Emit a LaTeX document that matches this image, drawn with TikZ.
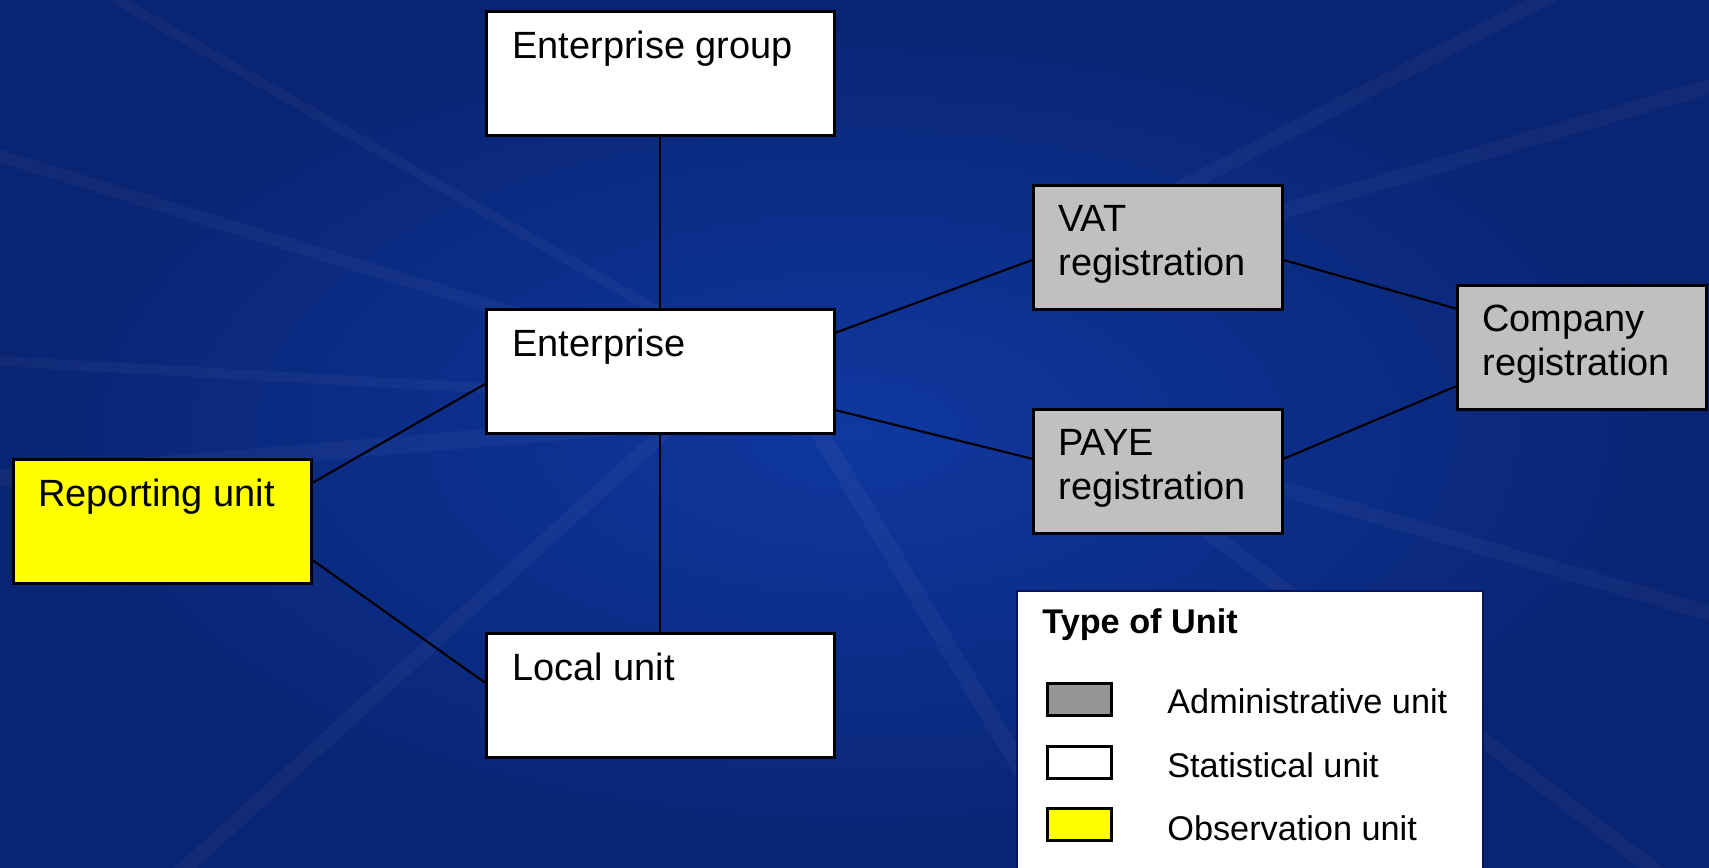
\documentclass[tikz,border=0pt]{standalone}
\usepackage{fontspec}
\setmainfont{Liberation Sans}
\usetikzlibrary{calc}
\definecolor{bgout}{RGB}{9,36,115}
\definecolor{bgin}{RGB}{16,56,160}
\definecolor{admgray}{RGB}{192,192,192}
\definecolor{swgray}{RGB}{150,150,150}
\definecolor{obsyellow}{RGB}{255,255,0}
\definecolor{legborder}{RGB}{10,20,90}
\begin{document}
\begin{tikzpicture}[x=0.02cm,y=-0.02cm,
  unitbox/.style={draw=black, line width=1.6pt, inner sep=0pt, anchor=north west, minimum height=2.48cm},
  statbox/.style={unitbox, fill=white, minimum width=6.96cm},
  admbox/.style={unitbox, fill=admgray, minimum width=4.98cm},
  obsbox/.style={unitbox, fill=obsyellow, minimum width=5.96cm},
  boxtext/.style={anchor=base west, inner sep=0pt, align=left, font=\fontsize{21.6}{24.5}\selectfont},
  legtext/.style={anchor=base west, inner sep=0pt, font=\fontsize{19.5}{23}\selectfont},
  swatch/.style={draw=black, line width=1.5pt, inner sep=0pt, anchor=north west, minimum width=1.28cm, minimum height=0.64cm},
  link/.style={draw=black, line width=1.2pt},
  ray/.style={white, opacity=0.035, line cap=round}
]
% background
\useasboundingbox (0,0) rectangle (1709,867);
\shade[inner color=bgin, outer color=bgout] (0,0) rectangle (1709,867);
\begin{scope}
\clip (0,0) rectangle (1709,867);
\draw[ray, line width=0.2cm] (100,-10) -- (760,370);
\draw[ray, line width=0.25cm] (-20,150) -- (800,400);
\draw[ray, line width=0.2cm] (-20,360) -- (700,400);
\draw[ray, line width=0.35cm] (-20,480) -- (700,420);
\draw[ray, line width=0.3cm] (700,400) -- (150,900);
\draw[ray, line width=0.35cm] (800,400) -- (1100,900);
\draw[ray, line width=0.3cm] (1100,450) -- (1800,980);
\draw[ray, line width=0.3cm] (1150,450) -- (1800,640);
\draw[ray, line width=0.3cm] (1150,250) -- (1800,60);
\draw[ray, line width=0.3cm] (1100,230) -- (1580,-20);
\end{scope}

% boxes
\node[statbox] (eg) at (485,10) {};
\node[statbox] (ent) at (485,308) {};
\node[statbox] (lu) at (485,632) {};
\node[obsbox] (ru) at (12,458) {};
\node[admbox] (vat) at (1032,184) {};
\node[admbox] (paye) at (1032,408) {};
\node[admbox] (comp) at (1456,284) {};

% texts
\node[boxtext] (egt) at ($(eg.north west)+(27,48)$) {Enterprise group};
\node[boxtext] (entt) at ($(ent.north west)+(27,48)$) {Enterprise};
\node[boxtext] (lut) at ($(lu.north west)+(27,48)$) {Local unit};
\node[boxtext] (rut) at ($(ru.north west)+(26,48)$) {Reporting unit};
\node[boxtext] (vatt) at ($(vat.north west)+(26,91)$) {VAT\\registration};
\node[boxtext] (payet) at ($(paye.north west)+(26,91)$) {PAYE\\registration};
\node[boxtext] (compt) at ($(comp.north west)+(26,91)$) {Company\\registration};

% connectors
\draw[link] (eg.south) -- (ent.north);
\draw[link] (ent.south) -- (lu.north);
\draw[link] ($(ru.north east)!0.194!(ru.south east)$) -- ($(ent.north west)!0.6!(ent.south west)$);
\draw[link] ($(ru.north east)!0.806!(ru.south east)$) -- ($(lu.north west)!0.4!(lu.south west)$);
\draw[link] ($(ent.north east)!0.194!(ent.south east)$) -- ($(vat.north west)!0.6!(vat.south west)$);
\draw[link] ($(ent.north east)!0.806!(ent.south east)$) -- ($(paye.north west)!0.4!(paye.south west)$);
\draw[link] ($(vat.north east)!0.6!(vat.south east)$) -- ($(comp.north west)!0.194!(comp.south west)$);
\draw[link] ($(paye.north east)!0.4!(paye.south east)$) -- ($(comp.north west)!0.806!(comp.south west)$);

% legend
\node[draw=legborder, line width=1.2pt, fill=white, anchor=north west, minimum width=9.32cm, minimum height=6.0cm, inner sep=0pt] (leg) at (1016,590) {};
\node[legtext, font=\fontsize{19.5}{23}\selectfont\bfseries] (legt) at ($(leg.north west)+(26,43)$) {Type of Unit};
\node[swatch, fill=swgray] (sw1) at (1046,682) {};
\node[swatch, fill=white] (sw2) at (1046,745) {};
\node[swatch, fill=obsyellow] (sw3) at (1046,807) {};
\node[legtext] (l1) at (1167,713) {Administrative unit};
\node[legtext] (l2) at (1167,777) {Statistical unit};
\node[legtext] (l3) at (1167,840) {Observation unit};
\end{tikzpicture}
\end{document}
